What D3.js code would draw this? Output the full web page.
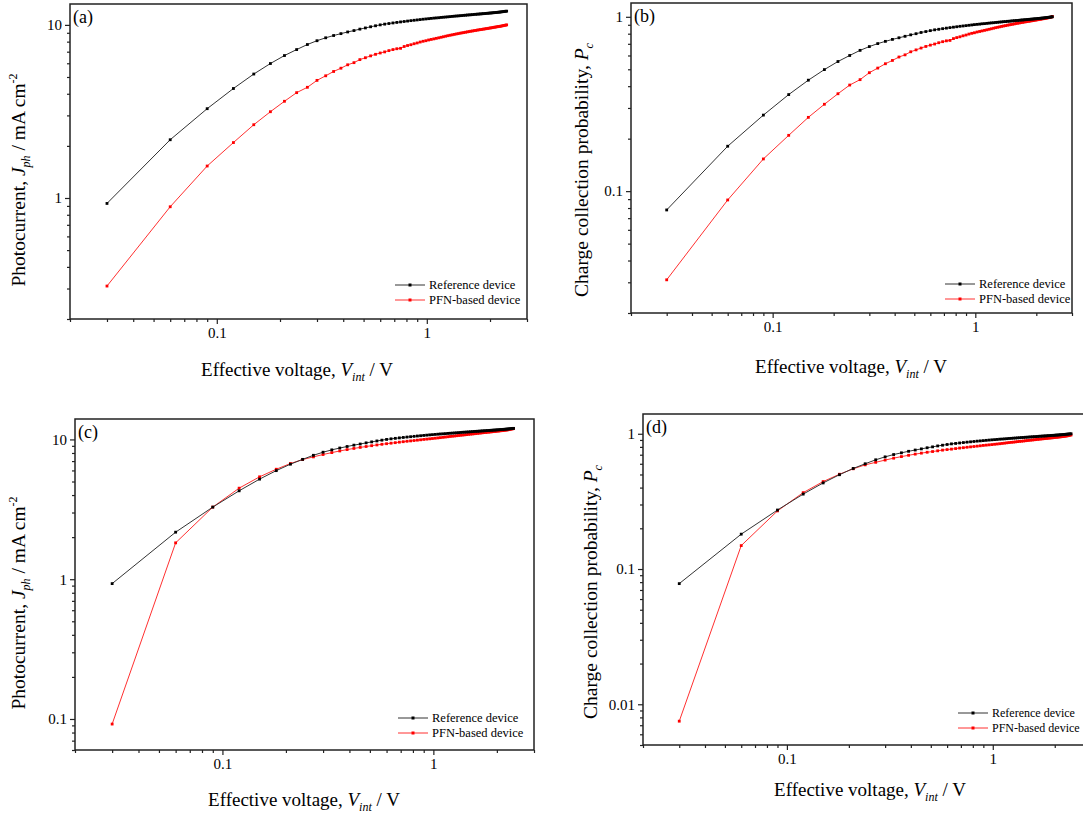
<!DOCTYPE html>
<html><head><meta charset="utf-8">
<script src="https://cdn.jsdelivr.net/npm/d3@7/dist/d3.min.js"></script>
<style>
body{margin:0;background:#fff;}
text{font-family:"Liberation Serif","Times New Roman",serif;fill:#000;}
</style></head>
<body>
<svg id="chart" width="1083" height="815"></svg>
<script>
// ---------- data ----------
const xs = [0.03,0.06,0.09,0.12,0.15,0.18,0.21,0.24,0.27,0.30,
  0.33,0.36,0.39,0.42,0.45,0.48,0.51,0.54,0.57,0.60,
  0.63,0.66,0.69,0.72,0.75,0.78,0.81,0.84,0.87,0.90,
  0.93,0.96,0.99,1.02,1.05,1.08,1.11,1.14,1.17,1.20,
  1.23,1.26,1.29,1.32,1.35,1.38,1.41,1.44,1.47,1.50,
  1.53,1.56,1.59,1.62,1.65,1.68,1.71,1.74,1.77,1.80,
  1.83,1.86,1.89,1.92,1.95,1.98,2.01,2.04,2.07,2.10,
  2.13,2.16,2.19,2.22,2.25,2.28,2.31,2.34,2.37,2.40];

// Reference device photocurrent (mA cm^-2) — panels (a) and (c)
const refJ = [0.93,2.17,3.28,4.29,5.2,5.98,6.65,7.2,7.7,8.1,
  8.42,8.68,8.9,9.1,9.27,9.45,9.6,9.75,9.88,10.0,
  10.1,10.18,10.26,10.33,10.4,10.46,10.52,10.58,10.63,10.68,
  10.73,10.78,10.82,10.86,10.9,10.94,10.97,11.0,11.04,11.07,
  11.1,11.13,11.16,11.19,11.22,11.25,11.27,11.3,11.32,11.35,
  11.37,11.4,11.42,11.44,11.46,11.49,11.51,11.53,11.55,11.57,
  11.59,11.61,11.63,11.65,11.67,11.69,11.71,11.73,11.75,11.77,
  11.79,11.81,11.83,11.85,11.88,11.9,11.93,11.95,11.98,12.0];

// PFN-based device photocurrent, panel (a)
const pfnJa = [0.31,0.89,1.53,2.09,2.65,3.15,3.62,4.06,4.36,4.78,
  5.08,5.38,5.62,5.88,6.05,6.3,6.46,6.62,6.76,6.88,
  6.98,7.1,7.2,7.28,7.32,7.5,7.6,7.68,7.78,7.86,
  7.96,8.04,8.1,8.18,8.24,8.3,8.36,8.42,8.48,8.54,
  8.6,8.66,8.71,8.76,8.81,8.86,8.9,8.95,8.99,9.03,
  9.07,9.11,9.15,9.19,9.22,9.26,9.29,9.33,9.36,9.39,
  9.42,9.45,9.48,9.51,9.54,9.57,9.6,9.63,9.66,9.69,
  9.72,9.75,9.78,9.8,9.83,9.86,9.9,9.93,9.96,10.0];

// PFN-based device photocurrent, panel (c)
const pfnJc = [0.092,1.82,3.28,4.48,5.4,6.12,6.72,7.18,7.5,7.8,
  8.05,8.27,8.46,8.62,8.77,8.9,9.02,9.13,9.23,9.32,
  9.4,9.48,9.56,9.63,9.7,9.76,9.82,9.88,9.94,10.0,
  10.05,10.1,10.15,10.2,10.25,10.3,10.35,10.4,10.45,10.5,
  10.54,10.58,10.63,10.67,10.71,10.75,10.79,10.83,10.87,10.91,
  10.94,10.98,11.02,11.05,11.09,11.12,11.16,11.19,11.22,11.25,
  11.28,11.31,11.34,11.37,11.4,11.43,11.46,11.49,11.52,11.55,
  11.58,11.61,11.64,11.67,11.71,11.75,11.8,11.85,11.9,11.95];

// Reference device charge collection probability — panels (b) and (d)
const refP = [0.078,0.181,0.273,0.358,0.433,0.498,0.554,0.6,0.642,0.675,
  0.702,0.723,0.742,0.758,0.773,0.788,0.8,0.813,0.823,0.833,
  0.842,0.848,0.855,0.861,0.867,0.872,0.877,0.882,0.886,0.89,
  0.894,0.898,0.902,0.905,0.908,0.912,0.914,0.917,0.92,0.923,
  0.925,0.928,0.93,0.933,0.935,0.938,0.939,0.942,0.943,0.946,
  0.948,0.95,0.952,0.953,0.955,0.958,0.959,0.961,0.963,0.964,
  0.966,0.968,0.969,0.971,0.973,0.974,0.976,0.978,0.979,0.981,
  0.983,0.984,0.986,0.988,0.99,0.992,0.994,0.996,0.998,1.0];

// PFN-based device charge collection probability, panel (b)
const pfnPb = [0.031,0.089,0.153,0.209,0.265,0.315,0.362,0.406,0.436,0.478,
  0.508,0.538,0.562,0.588,0.605,0.63,0.646,0.662,0.676,0.688,
  0.698,0.71,0.72,0.728,0.732,0.75,0.76,0.768,0.778,0.786,
  0.796,0.804,0.81,0.818,0.824,0.83,0.836,0.842,0.848,0.854,
  0.86,0.866,0.871,0.876,0.881,0.886,0.89,0.895,0.899,0.903,
  0.907,0.911,0.915,0.919,0.922,0.926,0.929,0.933,0.936,0.939,
  0.942,0.945,0.948,0.951,0.954,0.957,0.96,0.963,0.966,0.969,
  0.972,0.975,0.978,0.98,0.983,0.986,0.99,0.993,0.996,1.005];

// PFN-based device charge collection probability, panel (d)
const pfnPd = [0.0075,0.149,0.269,0.367,0.443,0.502,0.551,0.589,0.615,0.639,
  0.66,0.678,0.693,0.707,0.719,0.73,0.739,0.748,0.757,0.764,
  0.77,0.777,0.784,0.789,0.795,0.8,0.805,0.81,0.815,0.82,
  0.824,0.828,0.832,0.836,0.84,0.844,0.848,0.852,0.857,0.861,
  0.864,0.867,0.871,0.875,0.878,0.881,0.884,0.888,0.891,0.894,
  0.897,0.9,0.903,0.906,0.909,0.911,0.915,0.917,0.92,0.922,
  0.925,0.927,0.93,0.932,0.934,0.937,0.939,0.942,0.944,0.947,
  0.949,0.952,0.954,0.957,0.96,0.963,0.967,0.971,0.975,0.98];

const seriesNames = ["Reference device","PFN-based device"];
const xTickValues = [0.1, 1];
const xTickLabels = ["0.1", "1"];
const yTicksJa = [1, 10],          yLabelsJa = ["1", "10"];
const yTicksPb = [0.1, 1],         yLabelsPb = ["0.1", "1"];
const yTicksJc = [0.1, 1, 10],     yLabelsJc = ["0.1", "1", "10"];
const yTicksPd = [0.01, 0.1, 1],   yLabelsPd = ["0.01", "0.1", "1"];
const panelLetters = ["(a)","(b)","(c)","(d)"];

// ---------- layout ----------
const colors = {ref:"#000000", refLine:"#333333", pfn:"#ff0000", pfnLine:"#ff3030"};
const panels = [
  {letter:panelLetters[0], L:70, R:527, T:4, B:319, xd:[0.02,3], yd:[0.2,13.2],
   yt:yTicksJa, yl:yLabelsJa, s:[refJ,pfnJa], ytitle:"J",
   leg:{x:395, y:285, fs:12.5}, xtitle:{x:297, y:376}, ytitleX:25, ytitleY:180},
  {letter:panelLetters[1], L:631, R:1072, T:3, B:313, xd:[0.02,3], yd:[0.02,1.2],
   yt:yTicksPb, yl:yLabelsPb, s:[refP,pfnPb], ytitle:"P",
   leg:{x:945, y:284, fs:12.5}, xtitle:{x:851, y:373}, ytitleX:588, ytitleY:170},
  {letter:panelLetters[2], L:75, R:534, T:419, B:750, xd:[0.02,3], yd:[0.06,14],
   yt:yTicksJc, yl:yLabelsJc, s:[refJ,pfnJc], ytitle:"J",
   leg:{x:398, y:718, fs:12.5}, xtitle:{x:304, y:806}, ytitleX:25, ytitleY:603},
  {letter:panelLetters[3], L:643, R:1091, T:414, B:745, xd:[0.02,3], yd:[0.005,1.4],
   yt:yTicksPd, yl:yLabelsPd, s:[refP,pfnPd], ytitle:"P",
   leg:{x:958, y:713, fs:12}, xtitle:{x:870, y:796}, ytitleX:597, ytitleY:592}
];

const svg = d3.select("#chart");

function minorTicks(scale){
  const [a,b] = scale.domain();
  return scale.ticks(20).filter(v => v>=a && v<=b && Math.abs(Math.log10(v)-Math.round(Math.log10(v)))>1e-6);
}

panels.forEach(p => {
  const g = svg.append("g");
  const x = d3.scaleLog().domain(p.xd).range([p.L, p.R]);
  const y = d3.scaleLog().domain(p.yd).range([p.B, p.T]);

  // minor ticks
  g.append("g").attr("transform",`translate(0,${p.B})`)
    .call(d3.axisBottom(x).tickValues(minorTicks(x)).tickSize(3).tickFormat("").tickSizeOuter(0));
  g.append("g").attr("transform",`translate(${p.L},0)`)
    .call(d3.axisLeft(y).tickValues(minorTicks(y)).tickSize(3).tickFormat("").tickSizeOuter(0));
  // major ticks
  g.append("g").attr("transform",`translate(0,${p.B})`)
    .call(d3.axisBottom(x).tickValues(xTickValues).tickSize(5).tickPadding(3)
      .tickFormat((d,i)=>xTickLabels[i]).tickSizeOuter(0))
    .selectAll("text").style("font-size","15px").style("font-family","Liberation Serif");
  g.append("g").attr("transform",`translate(${p.L},0)`)
    .call(d3.axisLeft(y).tickValues(p.yt).tickSize(5).tickPadding(3)
      .tickFormat((d,i)=>p.yl[i]).tickSizeOuter(0))
    .selectAll("text").style("font-size","15px").style("font-family","Liberation Serif");
  g.selectAll(".domain").remove();
  g.selectAll(".tick line").attr("stroke","#222").attr("stroke-width",1.2);

  // frame
  g.append("rect").attr("x",p.L).attr("y",p.T).attr("width",p.R-p.L).attr("height",p.B-p.T)
    .attr("fill","none").attr("stroke","#222").attr("stroke-width",1.5);

  // series
  const clipId = "clip"+p.letter.replace(/[()]/g,"");
  g.append("clipPath").attr("id",clipId).append("rect")
    .attr("x",p.L).attr("y",p.T).attr("width",p.R-p.L).attr("height",p.B-p.T);
  const plot = g.append("g").attr("clip-path",`url(#${clipId})`);
  const styles = [{line:colors.refLine, mark:colors.ref},{line:colors.pfnLine, mark:colors.pfn}];
  [1,0].forEach(k => {
    const vals = p.s[k];
    const pts = xs.map((v,i)=>[v, vals[i]]);
    plot.append("path").datum(pts)
      .attr("d", d3.line().x(d=>x(d[0])).y(d=>y(d[1])))
      .attr("fill","none").attr("stroke",styles[k].line).attr("stroke-width",1);
    plot.selectAll(null).data(pts).enter().append("rect")
      .attr("x",d=>x(d[0])-1.4).attr("y",d=>y(d[1])-1.4)
      .attr("width",2.8).attr("height",2.8).attr("fill",styles[k].mark);
  });

  // panel letter
  g.append("text").attr("x",p.L+3).attr("y",p.T+19).style("font-size","18px").text(p.letter);

  // legend
  seriesNames.forEach((name,k) => {
    const ly = p.leg.y + k*15;
    g.append("line").attr("x1",p.leg.x).attr("x2",p.leg.x+30).attr("y1",ly).attr("y2",ly)
      .attr("stroke",styles[k].line).attr("stroke-width",1);
    g.append("rect").attr("x",p.leg.x+13.5).attr("y",ly-1.5).attr("width",3).attr("height",3)
      .attr("fill",styles[k].mark);
    g.append("text").attr("x",p.leg.x+34).attr("y",ly+4).style("font-size",p.leg.fs+"px").text(name);
  });

  // x title
  const xt = g.append("text").attr("x",p.xtitle.x).attr("y",p.xtitle.y)
    .attr("text-anchor","middle").style("font-size","19px");
  xt.append("tspan").text("Effective voltage, ");
  xt.append("tspan").style("font-style","italic").text("V");
  xt.append("tspan").style("font-style","italic").style("font-size","12px").attr("dy",5).text("int");
  xt.append("tspan").attr("dy",-5).text(" / V");

  // y title
  const yt = g.append("text").attr("transform",`translate(${p.ytitleX},${p.ytitleY}) rotate(-90)`)
    .attr("text-anchor","middle").style("font-size","19.5px");
  if (p.ytitle === "J") {
    yt.append("tspan").text("Photocurrent, ");
    yt.append("tspan").style("font-style","italic").text("J");
    yt.append("tspan").style("font-style","italic").style("font-size","12px").attr("dy",5).text("ph");
    yt.append("tspan").attr("dy",-5).text(" / mA cm");
    yt.append("tspan").style("font-size","12px").attr("dy",-8).text("-2");
  } else {
    yt.append("tspan").text("Charge collection probability, ");
    yt.append("tspan").style("font-style","italic").text("P");
    yt.append("tspan").style("font-style","italic").style("font-size","12px").attr("dy",5).text("c");
  }
});
</script>
</body></html>
